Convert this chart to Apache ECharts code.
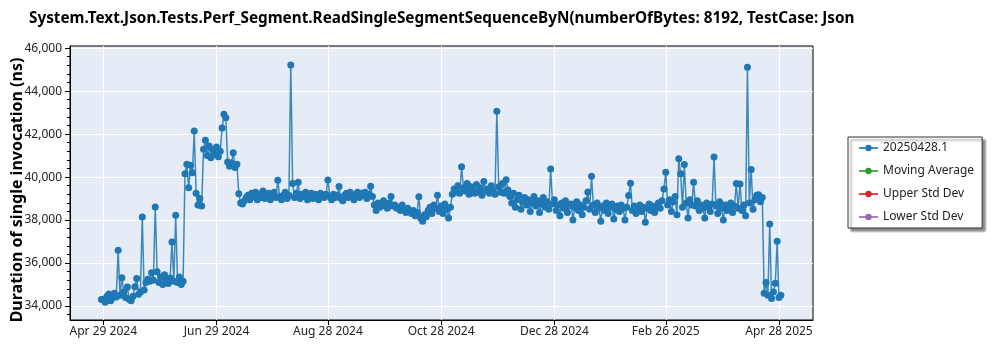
<!DOCTYPE html>
<html>
<head>
<meta charset="utf-8">
<script src="https://cdn.jsdelivr.net/npm/echarts@6/dist/echarts.min.js"></script>
<style>
  html, body { margin: 0; padding: 0; background: #fff; }
  #chart { width: 1000px; height: 350px; }
</style>
</head>
<body>
<div id="chart"></div>
<script>
// Benchmark history: one measured run per day, durations in nanoseconds.
const chartTitle = 'System.Text.Json.Tests.Perf_Segment.ReadSingleSegmentSequenceByN(numberOfBytes: 8192, TestCase: Json';
const yAxisTitle = 'Duration of single invocation (ns)';
const seriesNames = ['20250428.1', 'Moving Average', 'Upper Std Dev', 'Lower Std Dev'];
const seriesColors = ['#1f77b4', '#2ca02c', '#d62728', '#9467bd'];

const firstRunDate = '2024-04-28';
const durations = [
  34300, 34320, 34180, 34450, 34560, 34250, 34380, 34600, 34420, 36600,
  34500, 35320, 34650, 34400, 34890, 34300, 34250, 34450, 34900, 35280,
  34550, 34650, 38140, 34750, 35100, 35250, 35150, 35550, 35200, 38610,
  35600, 35100, 35350, 35000, 35450, 35200, 35050, 35300, 36980, 35150,
  38220, 35100, 35350, 35000, 35150, 40160, 40600, 39500, 40550, 40200,
  42140, 39250, 38700, 39000, 38650, 41300, 41720, 41000, 41450, 40900,
  41300, 41050, 41400, 40950, 41200, 42280, 42920, 42760, 40700, 40500,
  40650, 41130, 40450, 40600, 39230, 38800, 38750, 38900, 39050, 39150,
  38950, 39250, 39100, 39300, 38950, 39200, 39050, 39350, 39000, 39150,
  39250, 38950, 39100, 39300, 39050, 39850, 39100, 38950, 39150, 39300,
  39000, 39150, 45220, 39700, 39050, 39250, 39760, 39000, 39200, 39100,
  39300, 38950, 39150, 39250, 39000, 39200, 39100, 38950, 39250, 39150,
  39050, 39200, 39870, 39100, 38950, 39200, 39050, 39150, 39560, 39000,
  38900, 39150, 39250, 39050, 39300, 39100, 38950, 39200, 39300, 39050,
  39250, 39150, 39300, 39000, 39200, 39570, 39100, 38700, 38450, 38800,
  38600, 38750, 38900, 38650, 38550, 38800, 39100, 38650, 38700, 38550,
  38600, 38450, 38700, 38500, 38350, 38550, 38400, 38300, 38450, 38200,
  38350, 39080, 38100, 37940, 38250, 38150, 38450, 38600, 38300, 38700,
  38550, 39150, 38400, 38650, 38300, 38750, 38500, 38100, 38600, 39200,
  39450, 39300, 39600, 39250, 40480, 39500, 39350, 39700, 39200, 39550,
  39400, 39250, 39650, 39300, 39500, 39150, 39800, 39350, 39450, 39250,
  39600, 39350, 39200, 43060, 39550, 39300, 39700, 39250, 39880, 39400,
  39100, 38800, 39250, 38600, 38950, 39150, 38500, 38850, 39050, 38700,
  38950, 38400, 38800, 39100, 38650, 38900, 38350, 38750, 39050, 38600,
  38850, 38500, 40380, 38750, 38950, 38450, 38700, 38200, 38800, 38550,
  38900, 38350, 38650, 38750, 38000, 38600, 38850, 38450, 38700, 38250,
  38600, 38900, 39310, 38500, 40040, 38700, 38350, 38800, 38550, 37950,
  38650, 38450, 38800, 38300, 38600, 38750, 38050, 38500, 38650, 38400,
  38700, 38550, 38000, 38600, 39140, 39710, 38450, 38650, 38300, 38550,
  38700, 38400, 38600, 37900, 38550, 38750, 38450, 38650, 38350, 38600,
  38800, 38550, 38900, 39450, 40230, 38700, 38950, 38400, 38850, 39100,
  38250, 40850, 40150, 38600, 40590, 38800, 38100, 38950, 38700, 39760,
  38650, 38900, 38450, 38700, 38550, 38100, 38800, 38600, 38400, 38750,
  40940, 38650, 38300, 38850, 38550, 38000, 38700, 38450, 38600, 38800,
  38350, 38650, 39700, 38550, 39680, 38450, 38700, 38200, 45115, 38800,
  40350, 38500, 38950, 39150, 39180, 38850, 39050, 34590, 35090, 34500,
  37815, 34350, 34650, 35060, 37020, 34400, 34500
];

const xTickDates = ['2024-04-29', '2024-06-29', '2024-08-28', '2024-10-28', '2024-12-28', '2025-02-26', '2025-04-28'];
const yTickValues = [34000, 36000, 38000, 40000, 42000, 44000, 46000];

const DAY_MS = 86400000;
const MONTHS = ['Jan', 'Feb', 'Mar', 'Apr', 'May', 'Jun', 'Jul', 'Aug', 'Sep', 'Oct', 'Nov', 'Dec'];
const FONT = "'Noto Sans', 'DejaVu Sans', sans-serif";

function toUtc(s) {
  const p = s.split('-').map(Number);
  return Date.UTC(p[0], p[1] - 1, p[2]);
}
function formatDate(t) {
  const d = new Date(t);
  return MONTHS[d.getUTCMonth()] + ' ' + d.getUTCDate() + ' ' + d.getUTCFullYear();
}

const runStart = toUtc(firstRunDate);
const runPoints = durations.map((v, i) => [runStart + i * DAY_MS, v]);
const xTickValues = xTickDates.map(toUtc);

// Axis extents (a little padding on both sides of the date range)
const xMin = toUtc('2024-04-29') - 17.93 * DAY_MS;
const xMax = toUtc('2025-04-28') + 18.31 * DAY_MS;
const yMin = 33350;
const yMax = 46100;

// Minor ticks every 400 ns between the labelled ticks
const yMinorValues = [];
for (let v = 33600; v <= yMax; v += 400) {
  if (v % 2000 !== 0) yMinorValues.push(v);
}

const chart = echarts.init(document.getElementById('chart'), null, { renderer: 'canvas' });

const series = seriesNames.map((name, i) => ({
  name: name,
  type: 'line',
  data: i === 0 ? runPoints : [],
  color: seriesColors[i],
  symbol: 'circle',
  symbolSize: 7,
  showSymbol: true,
  lineStyle: { width: 1.5, color: seriesColors[i], opacity: 0.85 },
  itemStyle: { color: seriesColors[i] },
  emphasis: { disabled: true },
  z: 3
}));

chart.setOption({
  animation: false,
  textStyle: { fontFamily: FONT },
  title: {
    text: chartTitle,
    left: 29,
    top: 9,
    padding: 0,
    textStyle: { fontFamily: FONT, fontSize: 15.3, fontWeight: 'bold', color: '#000', lineHeight: 20 }
  },
  grid: {
    left: 70, right: 187, top: 46, bottom: 30,
    containLabel: false,
    outerBoundsMode: 'none',
    show: true,
    backgroundColor: '#E5ECF6',
    borderColor: '#000',
    borderWidth: 1
  },
  legend: {
    orient: 'vertical',
    left: 848,
    top: 137,
    data: seriesNames,
    itemWidth: 19,
    itemHeight: 8,
    itemGap: 11,
    padding: [5, 8, 5, 10],
    backgroundColor: '#fff',
    borderColor: '#333',
    borderWidth: 1,
    shadowColor: 'rgba(0,0,0,0.45)',
    shadowBlur: 2,
    shadowOffsetX: 3,
    shadowOffsetY: 3,
    textStyle: { fontFamily: FONT, fontSize: 12, color: '#222' }
  },
  xAxis: {
    type: 'value',
    min: xMin,
    max: xMax,
    axisLine: { show: true, lineStyle: { color: '#000', width: 1 } },
    axisTick: { show: true, customValues: xTickValues, length: 5, lineStyle: { color: '#000' } },
    axisLabel: { customValues: xTickValues, formatter: formatDate, color: '#222', fontSize: 12, margin: 6, fontFamily: FONT },
    splitLine: { show: true, lineStyle: { color: '#fff', width: 1 } }
  },
  yAxis: [
    {
      type: 'value',
      min: yMin,
      max: yMax,
      name: yAxisTitle,
      nameLocation: 'middle',
      nameGap: 45,
      nameMoveOverlap: false,
      nameTextStyle: { fontFamily: FONT, fontSize: 16, fontWeight: 'bold', color: '#000', padding: [0, 14, 0, 0] },
      axisLine: { show: true, lineStyle: { color: '#000', width: 1 } },
      axisTick: { show: true, customValues: yTickValues, length: 5, lineStyle: { color: '#000' } },
      axisLabel: {
        customValues: yTickValues,
        formatter: v => v.toLocaleString('en-US'),
        color: '#222', fontSize: 12, margin: 8, fontFamily: FONT
      },
      splitLine: { show: true, lineStyle: { color: '#fff', width: 1 } }
    },
    {
      type: 'value',
      min: yMin,
      max: yMax,
      position: 'left',
      axisLine: { show: false },
      axisTick: { show: true, customValues: yMinorValues, length: 3, lineStyle: { color: '#000' } },
      axisLabel: { show: false },
      splitLine: { show: false }
    }
  ],
  series: series
});
</script>
</body>
</html>
